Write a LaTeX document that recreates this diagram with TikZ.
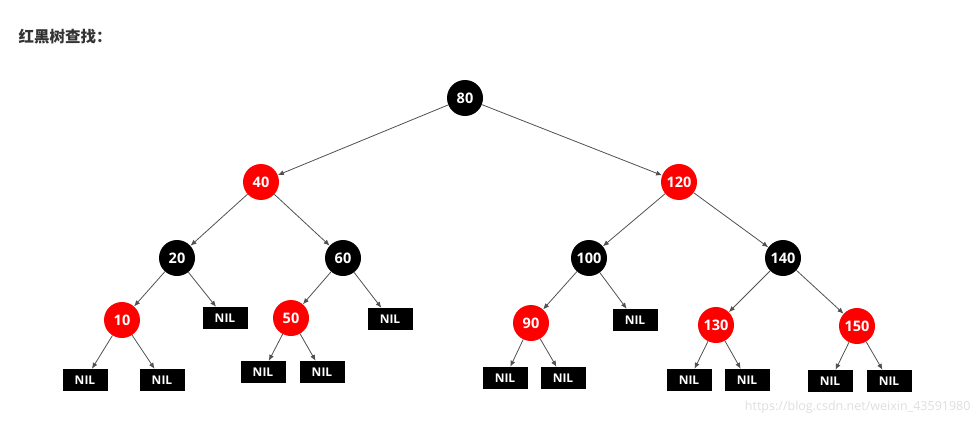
\documentclass[tikz,border=0pt]{standalone}
\usepackage{fontspec}
\setmainfont{Open Sans}
\newfontfamily\cjkfont{Noto Sans CJK SC}
\definecolor{rbred}{RGB}{255, 0, 0}
\definecolor{rbblack}{RGB}{0, 0, 0}
\definecolor{edgegray}{RGB}{80, 80, 80}
\definecolor{titlegray}{RGB}{51, 51, 51}
\definecolor{markgray}{RGB}{222, 222, 222}
\usetikzlibrary{arrows.meta, positioning}
\tikzset{
	rednode/.style={circle, fill=rbred, text=white, minimum size=36pt, inner sep=0pt, font=\bfseries\fontsize{14.5}{16}\selectfont},
	blacknode/.style={circle, fill=rbblack, text=white, minimum size=36pt, inner sep=0pt, font=\bfseries\fontsize{14.5}{16}\selectfont},
	nilnode/.style={rectangle, fill=rbblack, text=white, minimum width=45pt, minimum height=22pt, inner sep=0pt, font=\bfseries\fontsize{12}{14}\selectfont},
	edge/.style={-{Latex[length=6pt, width=5pt]}, line width=0.8pt, draw=edgegray},
}

\begin{document}
\begin{tikzpicture}[x=1pt, y=-1pt]
	\useasboundingbox (0,0) rectangle (977,436);
	\node[anchor=west, text=titlegray, font=\cjkfont\bfseries\fontsize{15.5}{17}\selectfont] (title) at (15,37) {红黑树查找：};
	% tree
	\node[blacknode] (n80) at (465,98) {80};
	\node[rednode] (n40) at (261,182) {40};
	\node[rednode] (n120) at (679,182) {120};
	\node[blacknode] (n20) at (177,258) {20};
	\node[blacknode] (n60) at (343,258) {60};
	\node[blacknode] (n100) at (589,258) {100};
	\node[blacknode] (n140) at (783,258) {140};
	\node[rednode] (n10) at (122,320) {10};
	\node[nilnode] (nilA) at (225,318) {NIL};
	\node[rednode] (n50) at (291,318) {50};
	\node[nilnode] (nilB) at (390,319) {NIL};
	\node[rednode] (n90) at (531,323) {90};
	\node[nilnode] (nilC) at (635,320) {NIL};
	\node[rednode] (n130) at (716,325) {130};
	\node[rednode] (n150) at (857,326) {150};
	% leaves
	\node[nilnode] (nil1) at (85,380) {NIL};
	\node[nilnode] (nil2) at (162,380) {NIL};
	\node[nilnode] (nil3) at (263,372) {NIL};
	\node[nilnode] (nil4) at (322,372) {NIL};
	\node[nilnode] (nil5) at (505,378) {NIL};
	\node[nilnode] (nil6) at (563,378) {NIL};
	\node[nilnode] (nil7) at (689,380) {NIL};
	\node[nilnode] (nil8) at (747,380) {NIL};
	\node[nilnode] (nil9) at (830,381) {NIL};
	\node[nilnode] (nil10) at (889,381) {NIL};
	\foreach \a/\b in {n80/n40,n80/n120,n40/n20,n40/n60,n120/n100,n120/n140,n20/n10,n20/nilA,n60/n50,n60/nilB,n100/n90,n100/nilC,n140/n130,n140/n150,n10/nil1,n10/nil2,n50/nil3,n50/nil4,n90/nil5,n90/nil6,n130/nil7,n130/nil8,n150/nil9,n150/nil10}{\draw[edge] (\a) -- (\b);}
	\node[anchor=east, text=markgray, font=\fontsize{12.5}{14}\selectfont] (mark) at (974,407) {https://blog.csdn.net/weixin\_43591980};
\end{tikzpicture}
\end{document}
